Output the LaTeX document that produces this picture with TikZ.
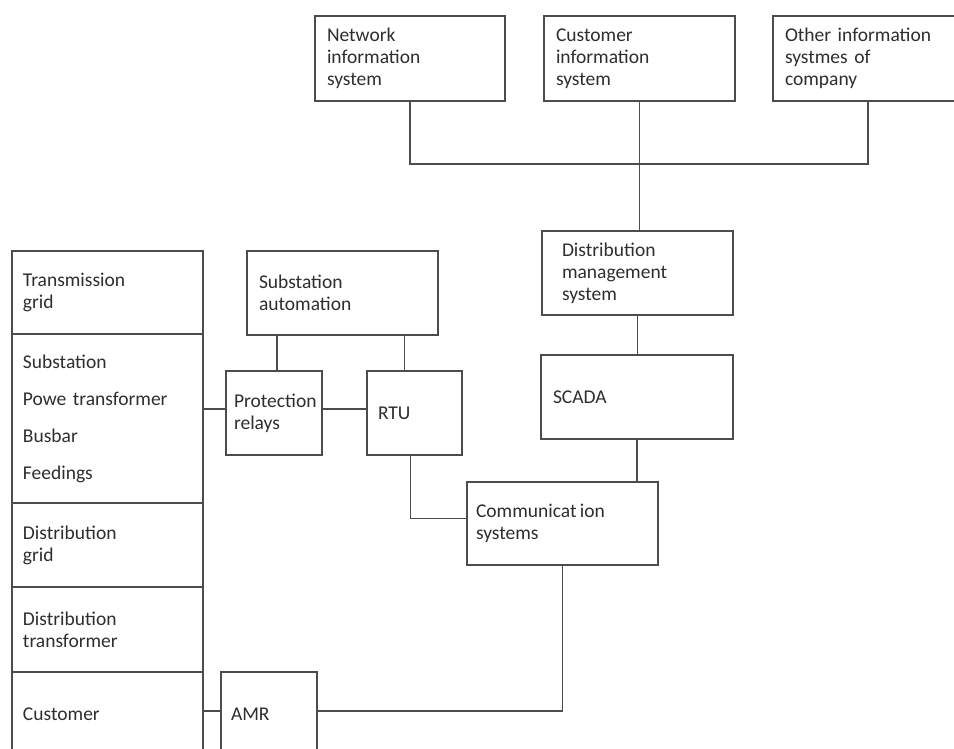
\documentclass[tikz,border=0pt]{standalone}
\usepackage{fontspec}
\setmainfont{Carlito}
\usepackage{tikz}

\newcommand\bxfont{\fontsize{19.5pt}{22pt}\selectfont}

\tikzset{
  blk/.style 2 args={draw=black!70, line width=1.5pt, rectangle, anchor=north west,
    inner xsep=12pt, inner ysep=0pt, outer sep=0pt, align=left, font=\bxfont,
    text=black!82, text width=#1, minimum height=#2},
  wire/.style={draw=black!70, line width=1.5pt}
}

\begin{document}
\begin{tikzpicture}[x=1pt, y=1pt, yscale=-1]
\fill[white] (0,0) rectangle (954,749);
\useasboundingbox (0,0) rectangle (954,749);
\clip (0,0) rectangle (954,749);
% information systems
\node[blk={166pt}{85pt}] (net) at (315,16) {Network\\information\\system};
\node[blk={167pt}{85pt}] (cust) at (544,16) {Customer\\information\\system};
\node[blk={166pt}{85pt}] (other) at (773,16) {Other information\\systmes of\\company};
% control chain
\node[blk={151pt}{84pt}, inner xsep=20pt] (dms) at (542,231) {Distribution\\management\\system};
\node[blk={168pt}{84pt}, inner xsep=12pt] (scada) at (541,355) {SCADA\\[8pt]};
\node[blk={173pt}{83pt}, inner xsep=9pt] (comm) at (467,482) {Communicat\,ion\\systems\\[4pt]};
\node[blk={167pt}{84pt}] (sa) at (247,251) {Substation\\automation};
\node[blk={80pt}{84pt}, inner xsep=8pt] (pr) at (226,371) {Protection\\relays\\[6pt]};
\node[blk={73pt}{84pt}, inner xsep=11pt] (rtu) at (367,371) {RTU\\[6pt]};
\node[blk={76pt}{84pt}, inner xsep=10pt] (amr) at (221,672) {AMR};
% power system column
\node[blk={169pt}{83pt}, inner xsep=11pt] (trans) at (12,251) {Transmission\\grid};
\node[blk={169pt}{169pt}, inner xsep=11pt] (sub) at (12,334) {Substation\\[15pt]Powe transformer\\[15pt]Busbar\\[15pt]Feedings};
\node[blk={169pt}{84pt}, inner xsep=11pt] (dgrid) at (12,503) {Distribution\\grid};
\node[blk={169pt}{85pt}, inner xsep=11pt] (dtrans) at (12,587) {Distribution\\transformer};
\node[blk={169pt}{84pt}, inner xsep=11pt] (custc) at (12,672) {Customer\\[10pt]};

\coordinate (bus) at (640,164);
\draw[wire] (net.south) |- (bus) -| (other.south);
\draw[wire] (cust.south) -- (cust.south |- dms.north);
\draw[wire] (dms.south) -- (dms.south |- scada.north);
\draw[wire] (scada.south) -- (scada.south |- comm.north);
\draw[wire] ([xshift=3pt]pr.north |- sa.south) -- ([xshift=3pt]pr.north);
\draw[wire] ([xshift=-10pt]rtu.north |- sa.south) -- ([xshift=-10pt]rtu.north);
\draw[wire] ([yshift=-4pt]pr.west -| sub.east) -- ([yshift=-4pt]pr.west);
\draw[wire] ([yshift=-4pt]pr.east) -- ([yshift=-4pt]pr.east -| rtu.west);
\draw[wire] ([xshift=-4pt]rtu.south) |- ([yshift=-5pt]comm.west);
\draw[wire] ([yshift=-3pt]amr.west -| custc.east) -- ([yshift=-3pt]amr.west);
\draw[wire] ([yshift=-3pt]amr.east) -| (comm.south);
\end{tikzpicture}
\end{document}
